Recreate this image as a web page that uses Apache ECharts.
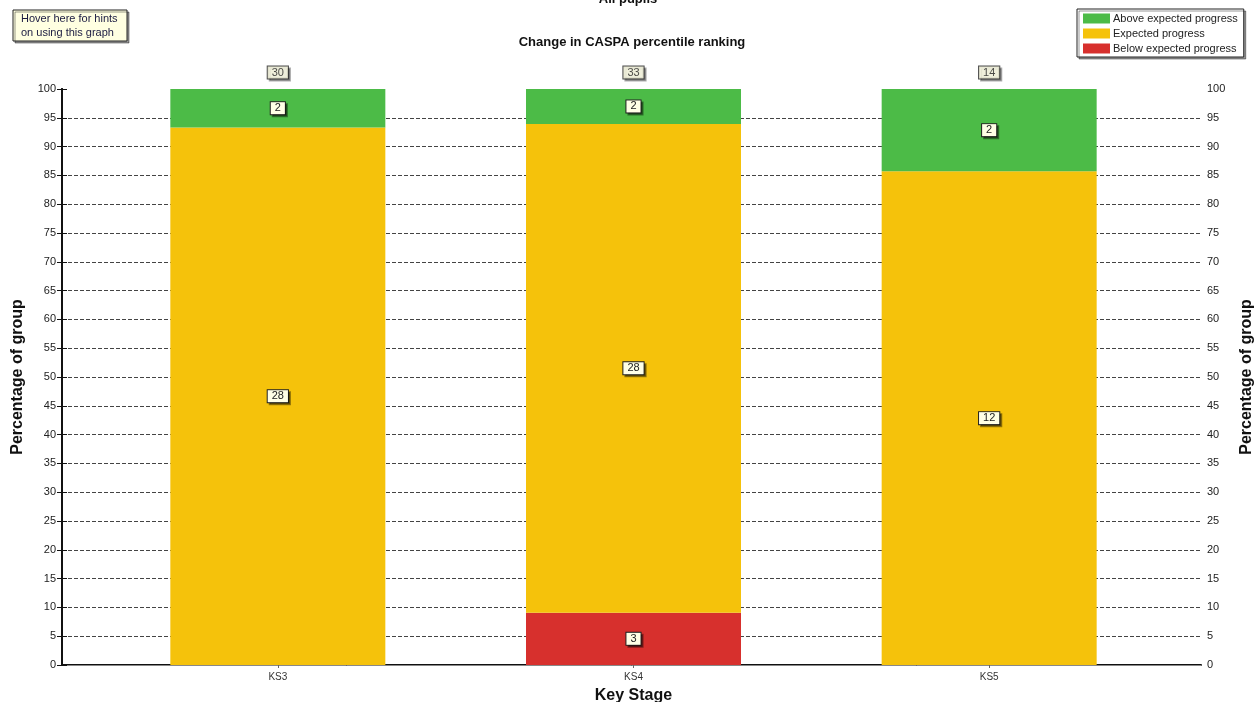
<!DOCTYPE html>
<html>
<head>
<meta charset="utf-8">
<script src="https://cdn.jsdelivr.net/npm/echarts@6/dist/echarts.min.js"></script>
<style>
  html, body { margin: 0; padding: 0; background: #fff; }
  #chart { width: 1256px; height: 702px; }
</style>
</head>
<body>
<div id="chart"></div>
<script>
// Pupil counts per key stage and progress band
const categories = ['KS3', 'KS4', 'KS5'];
const aboveCounts = [2, 2, 2];
const expectedCounts = [28, 28, 12];
const belowCounts = [0, 3, 0];
const totals = [30, 33, 14];
const seriesNames = ['Above expected progress', 'Expected progress', 'Below expected progress'];
const colors = { above: '#4cbb47', expected: '#f5c20b', below: '#d7302d' };

const pct = (counts) => counts.map((c, i) => (c / totals[i]) * 100);

const font = 'Liberation Sans, Arial, sans-serif';
const boxLabel = {
  show: true,
  position: 'inside',
  fontFamily: font,
  fontSize: 11,
  color: '#222',
  backgroundColor: '#ffffe6',
  borderColor: '#222',
  borderWidth: 1,
  padding: [1, 4, 0, 4],
  shadowColor: 'rgba(0,0,0,0.4)',
  shadowOffsetX: 2,
  shadowOffsetY: 2,
  shadowBlur: 0
};

function barSeries(name, counts, color) {
  return {
    name: name,
    type: 'bar',
    stack: 'progress',
    xAxisIndex: 2,
    yAxisIndex: 2,
    barWidth: 215,
    itemStyle: { color: color },
    data: pct(counts).map((v, i) => ({ value: counts[i] ? v : null, count: counts[i] })),
    label: Object.assign({}, boxLabel, {
      formatter: (p) => String(p.data.count)
    })
  };
}

// dashed gridlines everywhere except the 0 and 100 edges
const gridColors = [];
for (let i = 0; i <= 20; i++) gridColors.push(i === 0 || i === 20 ? 'rgba(0,0,0,0)' : '#444');

const chart = echarts.init(document.getElementById('chart'), null, { renderer: 'canvas' });
chart.setOption({
  animation: false,
  backgroundColor: '#fff',
  textStyle: { fontFamily: font },
  grid: [
    { left: 62, right: 55, top: 89, bottom: 37, outerBoundsMode: 'none', containLabel: false },
    { left: 100, right: 89, top: 89, bottom: 37, outerBoundsMode: 'none', containLabel: false }
  ],
  legend: {
    data: seriesNames,
    orient: 'vertical',
    left: 1077,
    top: 9,
    itemWidth: 27,
    itemHeight: 10,
    itemGap: 4,
    padding: [4, 6, 3, 6],
    backgroundColor: '#fff',
    borderColor: '#222',
    borderWidth: 1,
    shadowColor: 'rgba(0,0,0,0.4)',
    shadowOffsetX: 2,
    shadowOffsetY: 2,
    shadowBlur: 0,
    icon: 'rect',
    textStyle: { fontSize: 11, color: '#222', fontFamily: font, padding: [0, 0, 0, -2] }
  },
  xAxis: [
    { // bottom frame line
      type: 'value', gridIndex: 0, min: 0, max: 1, position: 'bottom',
      axisLine: { show: true, lineStyle: { color: '#111', width: 2 } },
      axisTick: { show: false }, axisLabel: { show: false }, splitLine: { show: false }
    },
    { // top frame line
      type: 'value', gridIndex: 0, min: 0, max: 1, position: 'top',
      axisLine: { show: true, lineStyle: { color: '#888', width: 1 } },
      axisTick: { show: false }, axisLabel: { show: false }, splitLine: { show: false }
    },
    {
      type: 'category', gridIndex: 1, data: categories,
      axisLine: { show: false },
      axisTick: { show: true, alignWithLabel: true, length: 3, lineStyle: { color: '#666' } },
      axisLabel: { fontSize: 10, color: '#333', margin: 7, fontFamily: font },
      name: 'Key Stage', nameLocation: 'middle', nameGap: 23,
      nameTextStyle: { fontSize: 16, fontWeight: 'bold', color: '#111', fontFamily: font }
    }
  ],
  yAxis: [
    {
      type: 'value', gridIndex: 0, min: 0, max: 100, interval: 5, position: 'left',
      axisLine: { show: true, lineStyle: { color: '#111', width: 2 } },
      axisTick: { show: true, length: 5, lineStyle: { color: '#111' } },
      axisLabel: { fontSize: 11, color: '#222', margin: 6, fontFamily: font },
      splitLine: { show: true, lineStyle: { color: gridColors, type: [4, 2], width: 1 } },
      name: 'Percentage of group', nameLocation: 'middle', nameGap: 36, nameRotate: 90,
      nameTextStyle: { fontSize: 16, fontWeight: 'bold', color: '#111', fontFamily: font }
    },
    {
      type: 'value', gridIndex: 0, min: 0, max: 100, interval: 5, position: 'right',
      axisLine: { show: true, lineStyle: { color: '#111', width: 2 } },
      axisTick: { show: true, length: 5, lineStyle: { color: '#111' } },
      axisLabel: { fontSize: 11, color: '#222', margin: 6, fontFamily: font },
      splitLine: { show: false },
      name: 'Percentage of group', nameLocation: 'middle', nameGap: 38, nameRotate: 90,
      nameTextStyle: { fontSize: 16, fontWeight: 'bold', color: '#111', fontFamily: font }
    },
    { type: 'value', gridIndex: 1, min: 0, max: 100, show: false }
  ],
  series: [
    barSeries(seriesNames[2], belowCounts, colors.below),
    barSeries(seriesNames[1], expectedCounts, colors.expected),
    barSeries(seriesNames[0], aboveCounts, colors.above),
    { // group totals above each bar
      name: 'Total',
      type: 'scatter',
      xAxisIndex: 2,
      yAxisIndex: 2,
      symbolSize: 1,
      itemStyle: { color: 'rgba(0,0,0,0)' },
      data: totals.map((t, i) => ({ value: [categories[i], 100], total: t })),
      label: Object.assign({}, boxLabel, {
        position: 'top',
        distance: 10,
        formatter: (p) => String(p.data.total)
      }),
      z: 5
    }
  ],
  graphic: [
    {
      type: 'text', left: 'center', top: -7,
      style: { text: 'All pupils', font: 'bold 13px ' + font, fill: '#111' }
    },
    {
      type: 'text', x: 632, y: 42,
      style: {
        text: 'Change in CASPA percentile ranking', font: 'bold 13px ' + font,
        fill: '#111', textAlign: 'center', textVerticalAlign: 'middle'
      }
    },
    {
      type: 'group', x: 13, y: 10,
      children: [
        {
          type: 'rect', shape: { x: 0, y: 0, width: 114, height: 31 },
          style: {
            fill: '#ffffe1', stroke: '#222', lineWidth: 1,
            shadowColor: 'rgba(0,0,0,0.4)', shadowOffsetX: 2, shadowOffsetY: 2, shadowBlur: 0
          }
        },
        {
          type: 'text', x: 8, y: 2,
          style: {
            text: 'Hover here for hints\non using this graph', font: '11px ' + font,
            fill: '#1a1a40', lineHeight: 14
          }
        }
      ]
    }
  ]
});
</script>
</body>
</html>
